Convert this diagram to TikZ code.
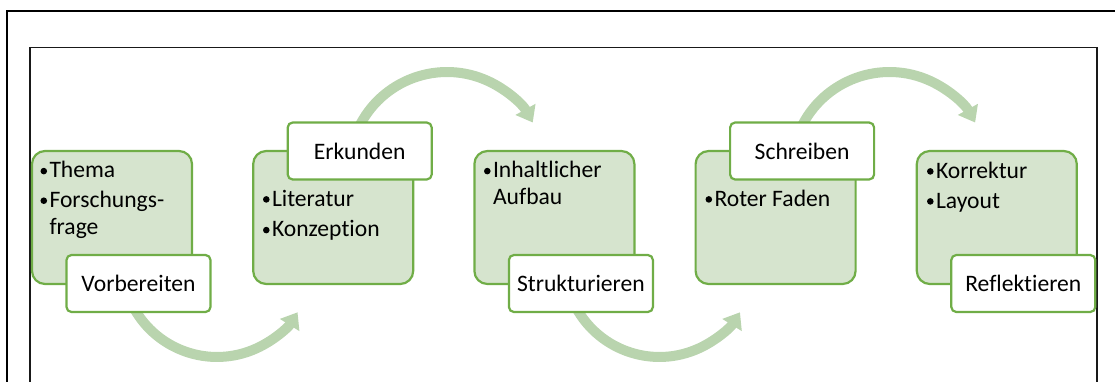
\documentclass[tikz,border=0pt]{standalone}
\usepackage{fontspec}
\setmainfont{Carlito}[Ligatures=NoCommon]
\usetikzlibrary{arrows.meta}
\definecolor{gborder}{HTML}{70AD47}
\definecolor{gfill}{HTML}{D6E4CE}
\definecolor{garrow}{HTML}{B9D4AE}
\newcommand\bul{\makebox[12pt][l]{\hspace{3pt}\tikz[baseline=-6.6pt]\fill[black] (0pt,0pt) circle[radius=3.3pt];}}
\tikzset{
  gbox/.style={draw=gborder, fill=gfill, line width=2.2pt, rounded corners=13pt,
    minimum width=160pt, minimum height=133pt, anchor=north west, outer sep=0pt, inner sep=0pt},
  lbox/.style={draw=gborder, fill=white, line width=2.2pt, rounded corners=5pt,
    minimum width=144pt, minimum height=57pt, anchor=north west, outer sep=0pt, inner sep=0pt,
    font=\fontsize{23.6}{27.6}\selectfont},
  txt/.style={anchor=base west, inner sep=0pt, outer sep=0pt, font=\fontsize{23.6}{27.6}\selectfont},
  flow/.style={draw=garrow, line width=10pt, -{Triangle[width=22pt,length=15pt]}}
}
\begin{document}
\begin{tikzpicture}[x=1pt,y=-1pt]
\useasboundingbox (0,0) rectangle (1115,381);
\clip (0,0) rectangle (1115,381);
% frames
\draw[line width=2.2pt] (7,11) rectangle (1140,400);
\draw[line width=1.6pt, draw=black!90] (30,47.5) rectangle (1097,400);
% content boxes
\node[gbox] (b1) at (32,151) {};
\node[gbox] (b2) at (253.2,151) {};
\node[gbox] (b3) at (474.4,151) {};
\node[gbox] (b4) at (695.6,151) {};
\node[gbox] (b5) at (916.8,151) {};
% texts
\node[txt] (t1) at (37.5,177.7) {\parbox[t]{150pt}{\baselineskip=27.6pt \bul Thema\\[2pt]\bul Forschungs-\\\hspace*{12pt}frage}};
\node[txt] (t2) at (260,206) {\parbox[t]{150pt}{\baselineskip=30.7pt \bul Literatur\\\bul Konzeption}};
\node[txt] (t3) at (481,177.7) {\parbox[t]{150pt}{\baselineskip=26.3pt \bul Inhaltlicher\\\hspace*{12pt}Aufbau}};
\node[txt] (t4) at (702.5,206) {\parbox[t]{150pt}{\bul Roter Faden}};
\node[txt] (t5) at (924,178) {\parbox[t]{150pt}{\baselineskip=30pt \bul Korrektur\\\bul Layout}};
% flow arrows
\coordinate (a1) at (130.9,302.1);
\coordinate (a2) at (358.2,128.6);
\coordinate (a3) at (573.3,302.1);
\coordinate (a4) at (800.6,128.6);
\draw[flow] (a1) arc[start angle=155, end angle=32, radius=95];
\draw[flow] (a2) arc[start angle=205, end angle=331, radius=98];
\draw[flow] (a3) arc[start angle=155, end angle=32, radius=95];
\draw[flow] (a4) arc[start angle=205, end angle=331, radius=98];
% labels
\node[lbox] (l1) at (66.5,255) {Vorbereiten};
\node[lbox] (l2) at (287.7,122.5) {Erkunden};
\node[lbox] (l3) at (508.9,255) {Strukturieren};
\node[lbox] (l4) at (730.1,122.5) {Schreiben};
\node[lbox] (l5) at (951.3,255) {Reflektieren};
\end{tikzpicture}
\end{document}
